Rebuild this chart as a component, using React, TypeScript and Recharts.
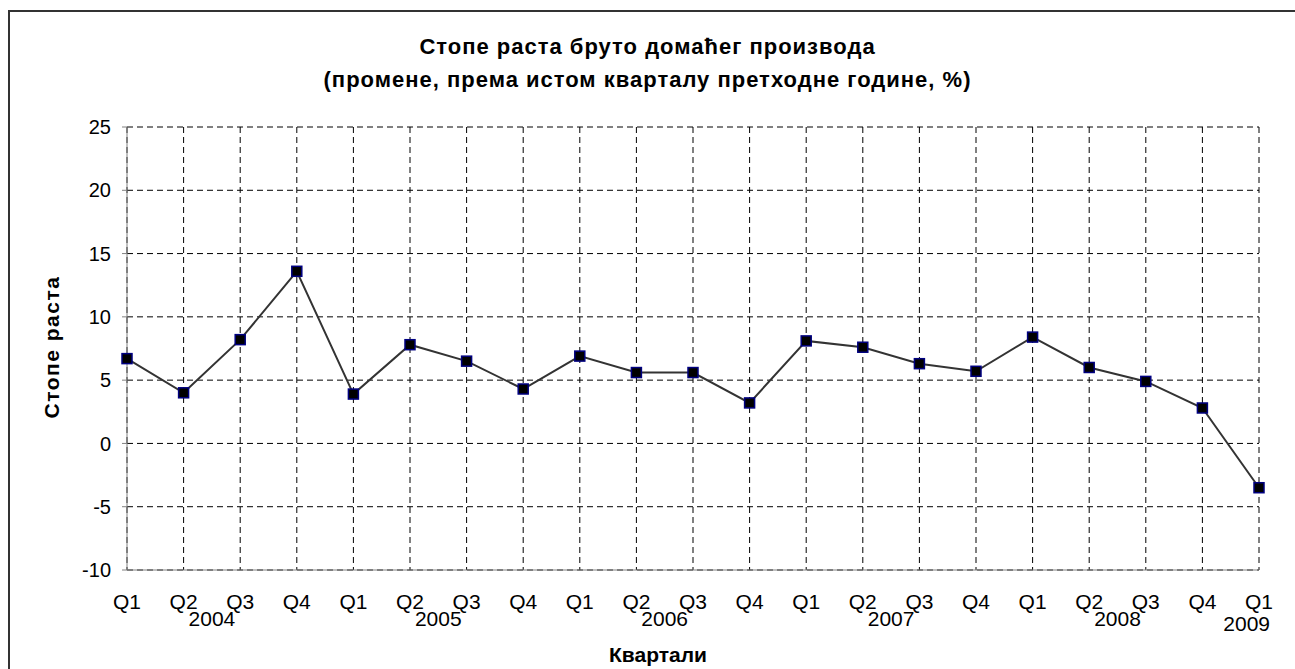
import { LineChart, Line, XAxis, YAxis, CartesianGrid } from 'recharts'

const quarters = [
  'Q1', 'Q2', 'Q3', 'Q4',
  'Q1', 'Q2', 'Q3', 'Q4',
  'Q1', 'Q2', 'Q3', 'Q4',
  'Q1', 'Q2', 'Q3', 'Q4',
  'Q1', 'Q2', 'Q3', 'Q4',
  'Q1',
]
const years = [
  '2004', '2004', '2004', '2004',
  '2005', '2005', '2005', '2005',
  '2006', '2006', '2006', '2006',
  '2007', '2007', '2007', '2007',
  '2008', '2008', '2008', '2008',
  '2009',
]
const growth = [
  6.7, 4.0, 8.2, 13.6,
  3.9, 7.8, 6.5, 4.3,
  6.9, 5.6, 5.6, 3.2,
  8.1, 7.6, 6.3, 5.7,
  8.4, 6.0, 4.9, 2.8,
  -3.5,
]
const yTicks = [-10, -5, 0, 5, 10, 15, 20, 25]

const data = quarters.map((q, i) => ({ q, year: years[i], value: growth[i] }))

const W = 1295
const H = 669
const MARGIN = { top: 127, right: 36, bottom: 39, left: 67 }
const Y_AXIS_W = 60
const STEP = (W - MARGIN.left - Y_AXIS_W - MARGIN.right) / (quarters.length - 1)
const FONT = '"Liberation Sans", Arial, sans-serif'

const QuarterTick = (props: any) => {
  const { x, y, index } = props
  const d = data[index]
  const isLast = index === data.length - 1
  // year label sits between Q2 and Q3, last year only has one quarter
  const showYear = isLast || (d.q === 'Q2' && years[index + 1] === d.year)
  return (
    <g>
      <text x={x} y={y + 39} textAnchor="middle" fontSize={21} fill="#000" fontFamily={FONT}>
        {d.q}
      </text>
      {showYear && (
        <text
          x={isLast ? x + 11 : x + STEP / 2}
          y={y + (isLast ? 61 : 56)}
          textAnchor={isLast ? 'end' : 'middle'}
          fontSize={21}
          fill="#000"
          fontFamily={FONT}
        >
          {d.year}
        </text>
      )}
    </g>
  )
}

const SquareDot = (props: any) => {
  const { cx, cy } = props
  if (cx == null || cy == null) return null
  return <rect x={cx - 5} y={cy - 5} width={10} height={10} fill="#000" stroke="#000080" strokeWidth={1.5} />
}

export default function App() {
  return (
    <div style={{ position: 'fixed', left: 0, top: 0, width: W, height: H, overflow: 'hidden', fontFamily: FONT, background: '#fff' }}>
      <div
        style={{
          position: 'absolute',
          left: 8,
          top: 10,
          width: W + 20,
          height: H + 20,
          borderLeft: '2px solid #333',
          borderTop: '2px solid #333',
        }}
      />
      <div style={{ position: 'absolute', left: 0, top: 0 }}>
        <LineChart width={W} height={H} data={data} margin={MARGIN}>
          <CartesianGrid stroke="#000" strokeDasharray="6 4" />
          <XAxis
            dataKey="q"
            interval={0}
            tickLine={false}
            tickSize={0}
            tickMargin={0}
            height={60}
            stroke="#808080"
            tick={<QuarterTick />}
          />
          <YAxis
            domain={[-10, 25]}
            ticks={yTicks}
            width={Y_AXIS_W}
            tickSize={5}
            tickMargin={11}
            stroke="#808080"
            tick={{ fontSize: 20, fill: '#000', fontFamily: FONT }}
          />
          <Line
            dataKey="value"
            stroke="#333"
            strokeWidth={2}
            dot={<SquareDot />}
            activeDot={false}
            isAnimationActive={false}
          />
        </LineChart>
        <div
          style={{
            position: 'absolute',
            left: 0,
            top: 30,
            width: W,
            textAlign: 'center',
            fontWeight: 'bold',
            fontSize: 22,
            letterSpacing: 1,
            lineHeight: '33px',
          }}
        >
          Стопе раста бруто домаћег производа
          <br />
          (промене, према истом кварталу претходне године, %)
        </div>
        <div
          style={{
            position: 'absolute',
            left: 52,
            top: 347,
            transform: 'translate(-50%, -50%) rotate(-90deg)',
            whiteSpace: 'nowrap',
            fontWeight: 'bold',
            fontSize: 21,
            letterSpacing: 1.5,
          }}
        >
          Стопе раста
        </div>
        <div
          style={{
            position: 'absolute',
            left: 658,
            top: 655,
            transform: 'translate(-50%, -50%)',
            whiteSpace: 'nowrap',
            fontWeight: 'bold',
            fontSize: 21,
          }}
        >
          Квартали
        </div>
      </div>
    </div>
  )
}
